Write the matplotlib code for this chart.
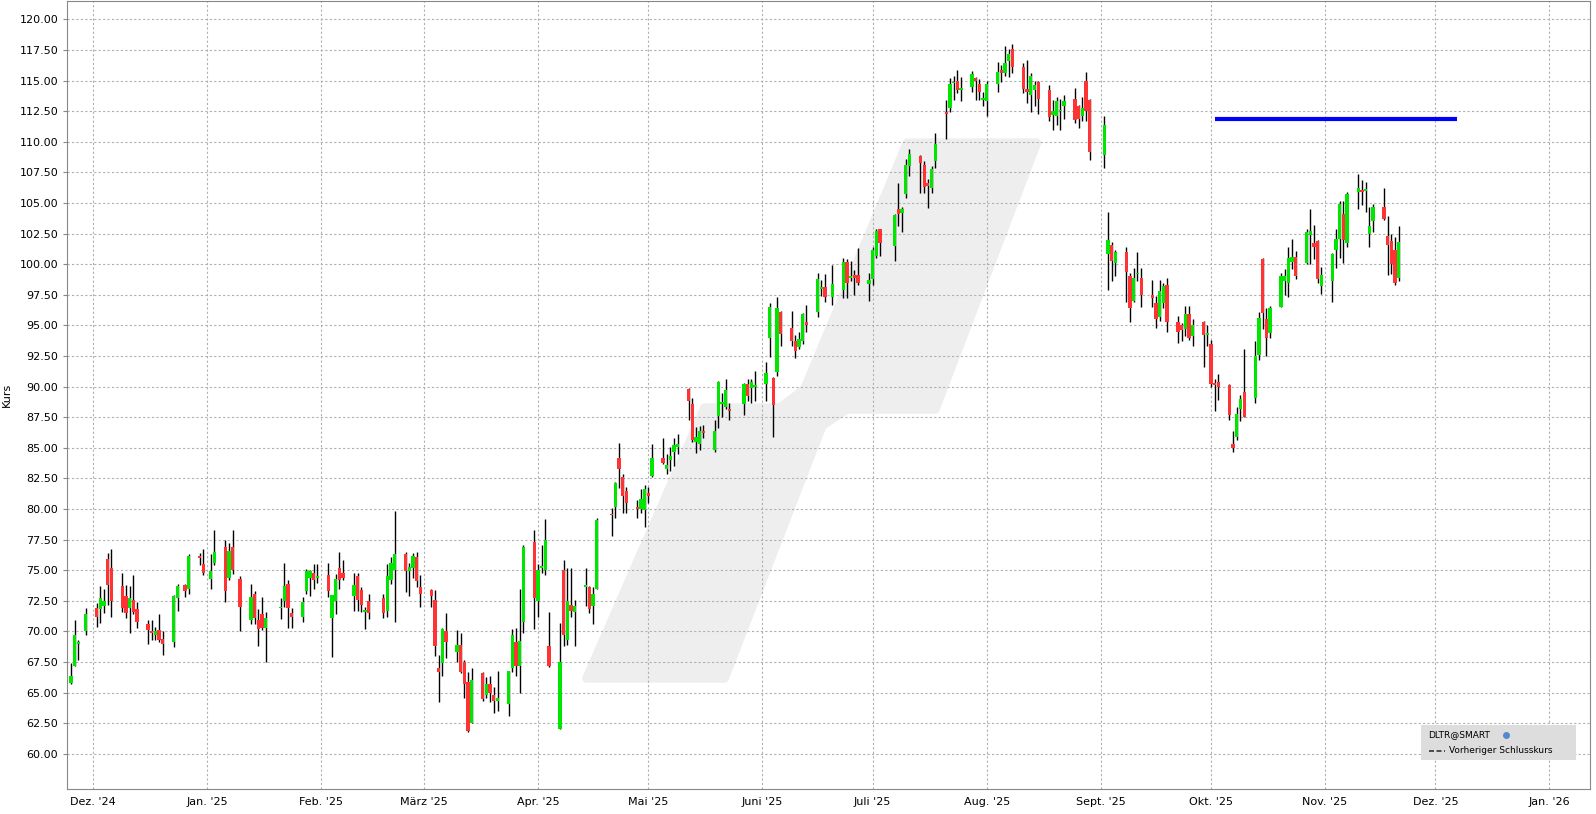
import numpy as np
import pandas as pd
import matplotlib
matplotlib.use("Agg")
import matplotlib.pyplot as plt
import matplotlib.dates as mdates
from matplotlib.patches import Polygon, Rectangle

# OHLC values, one per trading day from 25 Nov 2024
opens = [65.8, 67.2, 68.95, 70.0, 71.9, 71.8, 72.1, 75.9, 75.2, 73.7, 72.9, 71.9, 72.6, 71.8, 70.6, 70.0, 69.7, 70.1, 69.4, 69.1,
         72.7, 73.8, 73.5, 76.2, 75.5, 74.3, 75.6, 76.9, 74.4, 76.9, 74.3, 70.9, 73.1, 70.9, 71.4, 70.3, 71.9, 72.5, 73.9, 71.5,
         71.2, 73.3, 74.4, 74.8, 74.4, 74.6, 71.1, 72.5, 75.2, 74.8, 72.9, 74.5, 73.4, 71.6, 72.5, 72.7, 71.7, 74.2, 75.0, 76.3,
         74.9, 75.2, 76.1, 73.6, 73.4, 72.6, 67.0, 67.4, 70.0, 68.3, 68.9, 67.5, 65.9, 62.5, 66.6, 64.8, 65.7, 64.8, 64.3, 64.1,
         67.0, 69.1, 67.2, 70.8, 77.3, 72.5, 75.2, 75.0, 68.8, 62.0, 75.0, 69.3, 72.2, 71.6, 73.6, 73.6, 72.1, 73.5, 79.6, 80.2,
         84.2, 82.6, 81.5, 80.2, 80.0, 79.9, 81.3, 82.7, 84.2, 83.3, 84.0, 84.7, 85.1, 89.8, 88.6, 85.5, 85.3, 86.4, 84.8, 87.6,
         88.6, 88.3, 88.2, 88.6, 90.2, 89.9, 90.0, 90.2, 94.0, 90.7, 91.2, 96.1, 94.8, 93.7, 93.2, 93.7, 95.3, 96.1, 98.0, 98.1,
         97.3, 97.9, 100.2, 98.9, 99.1, 99.1, 98.4, 98.8, 100.7, 102.9, 101.5, 104.5, 104.2, 105.7, 108.0, 108.8, 108.1, 106.6, 106.2, 108.4,
         112.4, 112.8, 114.8, 115.0, 114.2, 114.5, 115.2, 114.7, 113.4, 113.3, 114.7, 115.9, 115.6, 116.6, 117.6, 116.1, 114.3, 113.8, 114.2, 114.9,
         114.2, 112.2, 112.1, 112.5, 112.9, 113.5, 112.9, 112.1, 115.0, 113.4, 108.9, 100.8, 101.6, 100.1, 101.0, 99.0, 97.0, 99.2, 98.9, 97.5,
         96.8, 95.7, 96.8, 98.3, 95.3, 95.0, 94.7, 95.9, 94.1, 95.3, 94.2, 93.5, 90.3, 90.4, 90.1, 85.3, 85.9, 88.2, 89.6, 89.1,
         92.6, 100.4, 95.5, 94.4, 96.5, 98.6, 98.5, 100.2, 100.6, 100.1, 102.4, 101.7, 101.9, 98.2, 98.6, 101.2, 102.1, 104.1, 101.7, 105.9,
         106.1, 106.0, 102.5, 103.5, 104.7, 102.3, 101.9, 101.2, 98.9]
highs = [67.4, 70.9, 69.3, 71.9, 72.3, 73.7, 73.5, 76.4, 76.7, 74.8, 73.8, 73.7, 74.6, 72.4, 70.9, 70.9, 70.4, 71.4, 70.0, 73.0,
         73.9, 73.9, 76.3, 76.4, 76.7, 76.3, 78.3, 77.5, 77.2, 78.3, 74.5, 73.9, 73.3, 71.8, 72.8, 71.6, 72.7, 75.6, 74.2, 71.9,
         72.8, 75.1, 75.0, 75.5, 75.5, 75.6, 73.0, 74.7, 76.5, 75.8, 74.8, 74.8, 73.6, 72.0, 73.1, 73.1, 75.5, 76.1, 79.8, 76.5,
         75.6, 76.4, 76.5, 74.6, 73.5, 73.4, 68.1, 70.3, 71.5, 70.1, 69.9, 67.7, 66.7, 67.0, 66.7, 66.3, 66.4, 65.5, 66.8, 66.8,
         70.2, 70.3, 73.5, 77.1, 78.3, 75.5, 77.1, 79.2, 71.6, 70.7, 75.8, 75.2, 75.2, 72.6, 75.2, 73.7, 73.6, 79.3, 80.1, 82.2,
         85.4, 82.9, 81.8, 80.7, 81.6, 82.0, 81.8, 85.3, 85.8, 84.5, 85.1, 85.8, 86.1, 89.9, 89.1, 86.7, 86.8, 86.9, 87.3, 90.5,
         89.5, 90.6, 88.7, 90.3, 90.6, 90.6, 91.3, 92.0, 96.8, 90.8, 97.3, 96.2, 96.2, 94.2, 94.5, 96.0, 96.7, 99.3, 98.7, 99.2,
         99.9, 100.5, 100.4, 100.3, 99.5, 101.3, 99.3, 101.4, 102.9, 102.9, 104.1, 106.6, 104.7, 108.6, 109.4, 108.9, 108.4, 107.0, 108.0, 110.7,
         113.4, 115.2, 115.4, 115.9, 115.3, 115.8, 115.3, 115.1, 114.1, 115.0, 116.5, 116.3, 117.8, 117.6, 118.0, 116.4, 116.7, 115.6, 115.0, 115.0,
         114.6, 113.4, 113.7, 113.5, 113.8, 114.4, 113.0, 113.7, 115.7, 113.5, 112.1, 104.3, 101.8, 101.2, 101.4, 99.3, 99.7, 101.0, 99.7, 98.7,
         97.4, 98.7, 98.5, 98.9, 95.8, 95.2, 96.6, 96.6, 95.5, 95.4, 95.0, 93.8, 90.6, 91.0, 90.2, 86.4, 88.3, 89.3, 93.1, 93.7,
         96.1, 100.5, 96.4, 96.6, 99.3, 99.6, 101.4, 102.1, 101.1, 102.9, 104.5, 103.2, 102.0, 99.8, 100.9, 102.9, 105.2, 105.2, 105.9, 107.4,
         106.9, 106.7, 104.7, 104.9, 106.2, 103.9, 102.5, 102.2, 103.1]
lows = [65.7, 67.2, 67.7, 69.7, 70.4, 70.7, 71.5, 72.2, 71.2, 71.6, 71.1, 69.9, 71.4, 70.3, 69.0, 69.3, 69.3, 69.1, 68.1, 68.7,
        71.7, 72.8, 73.1, 75.4, 74.6, 73.5, 75.4, 72.4, 74.2, 74.7, 70.0, 70.6, 70.6, 68.8, 70.1, 67.5, 71.0, 72.0, 70.3, 70.3,
        70.8, 73.1, 72.9, 73.5, 74.0, 72.8, 67.9, 71.4, 73.5, 74.2, 71.7, 71.7, 71.6, 70.2, 71.0, 71.1, 71.2, 73.9, 70.8, 73.2,
        72.9, 74.4, 73.6, 72.0, 72.0, 68.0, 64.2, 66.4, 67.8, 67.5, 66.6, 64.6, 61.8, 62.5, 64.3, 64.6, 64.2, 63.3, 63.5, 63.1,
        66.7, 66.4, 65.0, 69.9, 70.2, 71.2, 74.8, 74.6, 67.1, 62.0, 68.8, 68.9, 71.2, 68.8, 72.1, 71.5, 70.6, 73.5, 77.8, 79.3,
        81.7, 79.7, 79.7, 79.3, 79.7, 78.5, 80.5, 82.6, 83.7, 82.9, 83.1, 83.5, 84.5, 87.3, 85.5, 84.6, 84.8, 85.8, 84.7, 86.6,
        87.5, 88.2, 87.3, 87.7, 88.8, 88.7, 88.8, 88.8, 92.4, 85.9, 90.9, 93.3, 93.3, 92.3, 93.1, 93.5, 94.5, 95.7, 97.4, 96.9,
        96.7, 97.2, 97.2, 98.6, 97.5, 98.3, 97.0, 98.3, 100.5, 100.7, 100.3, 103.1, 102.6, 105.4, 107.2, 105.8, 105.8, 104.6, 105.8, 107.9,
        110.2, 112.4, 113.4, 114.0, 113.3, 114.1, 113.4, 113.4, 112.9, 112.1, 114.1, 114.9, 115.4, 115.3, 115.6, 114.0, 113.2, 112.4, 112.9, 112.3,
        111.7, 111.0, 111.4, 111.0, 111.9, 111.5, 111.1, 111.7, 111.7, 108.5, 107.9, 97.9, 98.6, 99.0, 96.9, 95.3, 96.9, 98.6, 96.5, 96.5,
        94.8, 95.4, 96.4, 94.5, 93.6, 93.7, 94.1, 93.8, 93.3, 91.6, 93.3, 90.0, 88.0, 88.9, 87.3, 84.7, 85.6, 87.2, 87.5, 88.7,
        92.2, 94.7, 92.5, 94.0, 96.5, 97.5, 97.3, 99.6, 98.8, 100.0, 100.0, 100.4, 98.5, 97.6, 96.9, 99.7, 100.5, 100.1, 101.4, 104.5,
        104.8, 104.3, 101.4, 102.6, 103.6, 99.1, 99.2, 98.3, 98.6]
closes = [66.4, 69.7, 69.1, 71.4, 71.2, 72.7, 72.5, 73.8, 72.5, 71.9, 71.5, 72.7, 71.6, 70.8, 70.1, 69.9, 70.0, 69.3, 69.0, 72.9,
          73.7, 73.3, 76.2, 76.0, 74.8, 74.9, 76.5, 73.3, 76.6, 75.0, 72.0, 72.8, 71.1, 70.2, 70.3, 71.1, 72.0, 73.7, 71.9, 71.2,
          72.4, 74.9, 74.9, 74.2, 74.5, 73.3, 73.0, 74.3, 74.2, 74.4, 73.8, 72.6, 72.2, 71.7, 71.5, 71.5, 74.5, 75.6, 76.3, 74.9,
          75.3, 76.2, 74.1, 73.1, 72.9, 68.8, 66.7, 70.2, 69.1, 68.9, 66.7, 65.7, 61.9, 66.0, 64.5, 65.7, 65.0, 64.3, 64.6, 66.8,
          69.7, 67.2, 69.2, 76.9, 72.7, 75.0, 75.3, 77.5, 67.2, 67.5, 69.7, 72.5, 71.7, 72.1, 73.8, 71.8, 73.1, 79.1, 79.5, 82.1,
          83.3, 81.1, 80.5, 80.0, 80.8, 81.6, 81.1, 84.2, 83.8, 83.6, 84.3, 85.2, 85.3, 88.8, 85.6, 85.9, 86.4, 86.2, 86.4, 90.4,
          88.7, 89.7, 88.0, 90.2, 89.2, 90.4, 90.1, 91.1, 96.5, 88.5, 96.4, 94.3, 93.7, 92.9, 93.9, 95.9, 95.0, 98.8, 98.1, 97.3,
          98.4, 100.2, 98.5, 99.0, 98.9, 98.5, 98.7, 101.2, 102.7, 101.7, 104.0, 104.1, 104.5, 108.1, 109.0, 108.3, 106.3, 106.4, 107.8, 109.8,
          112.3, 114.7, 114.9, 114.2, 114.4, 115.5, 115.0, 114.1, 113.6, 114.7, 115.7, 115.6, 116.4, 117.2, 116.1, 114.3, 114.1, 115.4, 114.6, 113.5,
          112.0, 112.5, 113.3, 112.6, 113.3, 111.8, 111.9, 112.8, 112.5, 109.2, 111.4, 102.0, 100.3, 101.0, 99.4, 96.4, 98.9, 99.3, 97.5, 97.2,
          95.5, 97.8, 98.2, 95.3, 94.5, 94.6, 95.9, 94.0, 95.0, 94.2, 94.4, 90.2, 90.1, 90.0, 87.7, 85.0, 87.8, 89.0, 87.5, 92.5,
          95.6, 96.0, 94.0, 96.4, 99.0, 99.0, 100.5, 100.6, 99.0, 102.6, 102.7, 101.4, 98.8, 99.1, 100.8, 102.1, 104.9, 102.0, 105.7, 106.2,
          105.9, 106.1, 103.1, 104.7, 103.7, 101.6, 100.0, 98.5, 101.8]

# NYSE holidays in the period
holidays = ["2024-11-28", "2024-12-25", "2025-01-01", "2025-01-09", "2025-01-20", "2025-02-17",
            "2025-04-18", "2025-05-26", "2025-06-19", "2025-07-04", "2025-09-01"]
start_day = "2024-11-25"

prev_close_level = 111.85
prev_close_span = ("2025-10-02", "2025-12-07")

month_ticks = ["2024-12-01", "2025-01-01", "2025-02-01", "2025-03-01", "2025-04-01", "2025-05-01", "2025-06-01",
               "2025-07-01", "2025-08-01", "2025-09-01", "2025-10-01", "2025-11-01", "2025-12-01", "2026-01-01"]
month_labels = ["Dez. '24", "Jan. '25", "Feb. '25", "März '25", "Apr. '25", "Mai '25", "Juni '25",
                "Juli '25", "Aug. '25", "Sept. '25", "Okt. '25", "Nov. '25", "Dez. '25", "Jan. '26"]

n = len(closes)
bday = pd.offsets.CustomBusinessDay(holidays=holidays)
days = pd.date_range(start_day, periods=n, freq=bday)
x = mdates.date2num(days.to_pydatetime())
o, h, l, c = map(np.array, (opens, highs, lows, closes))

# layout measured on a 1568x799 view of the picture
W, H = 1568, 799
AX_L, AX_R, AX_T, AX_B = 66, 1562, 1, 774

fig = plt.figure(figsize=(15.96, 8.14), dpi=100)
ax = fig.add_axes([AX_L / W, 1 - AX_B / H, (AX_R - AX_L) / W, (AX_B - AX_T) / H])


def frac(px, py):
    return (px - AX_L) / (AX_R - AX_L), (AX_B - py) / (AX_B - AX_T)


# watermark logo
logo_px = [(576, 666), (712, 666), (808, 418), (832, 402), (919, 402), (1019, 140),
           (891, 140), (790, 382), (766, 400), (692, 400)]
ax.add_patch(Polygon([frac(*p) for p in logo_px], closed=True, transform=ax.transAxes,
                     facecolor="#eeeeee", edgecolor="#eeeeee", linewidth=6,
                     joinstyle="round", zorder=0))

up = c >= o
colors = np.where(up, "#00e600", "#ff3333")
ax.vlines(x, l, h, color="black", linewidth=1.0, zorder=2)
body_lo = np.minimum(o, c)
body_h = np.maximum(np.abs(c - o), 0.12)
ax.bar(x, body_h, bottom=body_lo, width=0.9, color=colors, linewidth=0, zorder=3)

ax.hlines(prev_close_level, mdates.datestr2num(prev_close_span[0]), mdates.datestr2num(prev_close_span[1]),
          color="#0000ff", linewidth=3, zorder=4)

ax.set_ylim(57.17, 121.5)
ax.set_xlim(mdates.datestr2num("2024-11-24"), mdates.datestr2num("2026-01-12"))
yt = np.arange(60, 120.01, 2.5)
ax.set_yticks(yt)
ax.set_yticklabels([f"{v:.2f}" for v in yt])
ax.set_xticks([mdates.datestr2num(d) for d in month_ticks])
ax.set_xticklabels(month_labels)
ax.tick_params(labelsize=8, color="#888888")
ax.tick_params(axis="y", length=3)
ax.tick_params(axis="x", length=0, pad=6)
ax.grid(True, color="#b0b0b0", linestyle=(0, (2, 2)), linewidth=0.8)
ax.set_axisbelow(True)
for s in ax.spines.values():
    s.set_color("#888888")
ax.set_ylabel("Kurs", fontsize=8)
ax.yaxis.set_label_coords(-0.036, 0.5)

# legend box
x0, y0 = frac(1396, 746)
x1, y1 = frac(1548, 712)
ax.add_patch(Rectangle((x0, y0), x1 - x0, y1 - y0, transform=ax.transAxes,
                       facecolor="#dddddd", edgecolor="none", zorder=5))
ax.text(*frac(1403, 721), "DLTR@SMART", transform=ax.transAxes, fontsize=6.5, va="center", zorder=6)
ax.plot(*frac(1480, 721), marker="o", markersize=4, color="#5588cc", transform=ax.transAxes, zorder=6)
lx0, ly = frac(1404, 737)
lx1, _ = frac(1420, 737)
ax.plot([lx0, lx1], [ly, ly], color="#333333", linestyle=(0, (3, 1.5)), linewidth=1.2,
        transform=ax.transAxes, zorder=6)
ax.text(*frac(1424, 737), "Vorheriger Schlusskurs", transform=ax.transAxes,
        fontsize=6.5, va="center", zorder=6)

fig.savefig("out.png", dpi=100)
